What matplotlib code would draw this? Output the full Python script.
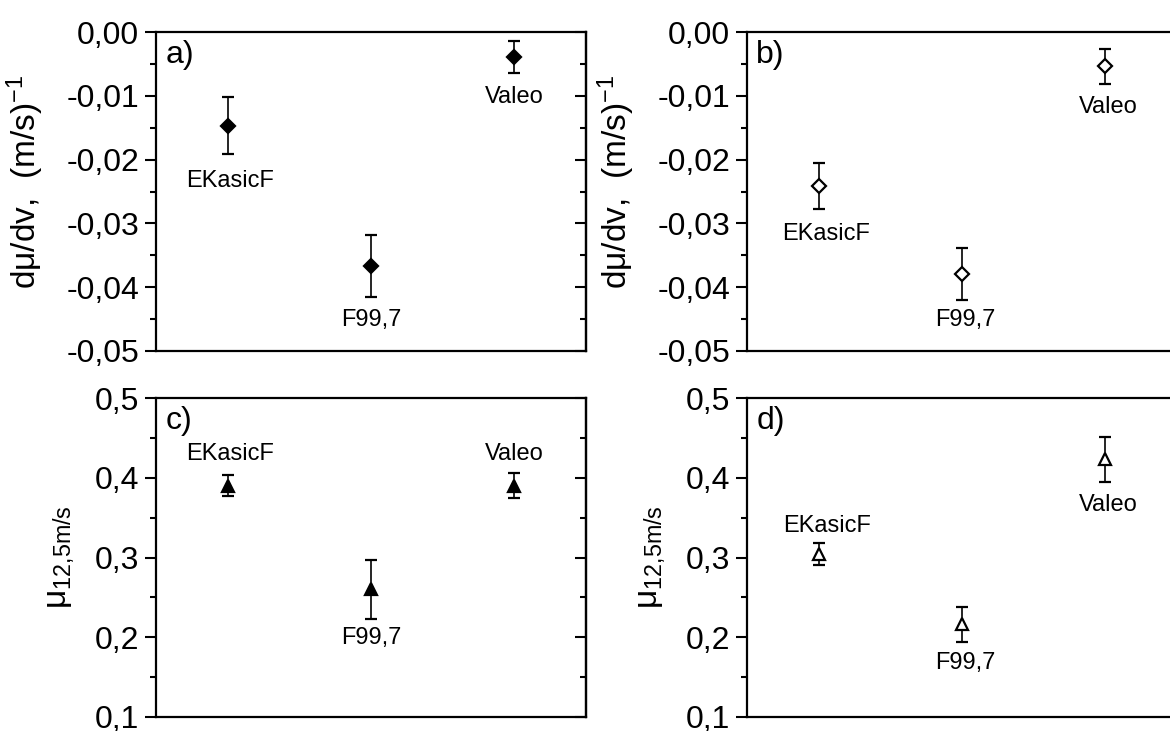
import matplotlib
matplotlib.use('Agg')
import matplotlib.pyplot as plt

plt.rcParams['font.family'] = ['Liberation Sans', 'DejaVu Sans']
plt.rcParams['mathtext.fontset'] = 'custom'
plt.rcParams['mathtext.rm'] = 'Liberation Sans'
plt.rcParams['mathtext.it'] = 'Liberation Sans'

# samples and x positions
samples = ['EKasicF', 'F99,7', 'Valeo']
x_pos = [1, 2, 3]

# a) dmu/dv, filled diamonds
slope_a = [-0.0147, -0.0367, -0.0039]
slope_a_err = [0.0045, 0.0049, 0.0025]
# b) dmu/dv, open diamonds
slope_b = [-0.0242, -0.0379, -0.0054]
slope_b_err = [0.0036, 0.0041, 0.0027]
# c) mu at 12.5 m/s, filled triangles
mu_c = [0.390, 0.260, 0.390]
mu_c_err = [0.013, 0.037, 0.016]
# d) mu at 12.5 m/s, open triangles
mu_d = [0.304, 0.216, 0.423]
mu_d_err = [0.014, 0.022, 0.028]

slope_ticks = [0.0, -0.01, -0.02, -0.03, -0.04, -0.05]
slope_ticklabels = ['0,00', '-0,01', '-0,02', '-0,03', '-0,04', '-0,05']
slope_minor = [-0.005, -0.015, -0.025, -0.035, -0.045]
mu_ticks = [0.1, 0.2, 0.3, 0.4, 0.5]
mu_ticklabels = ['0,1', '0,2', '0,3', '0,4', '0,5']
mu_minor = [0.15, 0.25, 0.35, 0.45]

# where the sample names sit in each panel (data coords)
lab_a = ([1.02, 2.0, 3.0], [-0.0234, -0.0451, -0.0102])
lab_b = ([1.05, 2.02, 3.02], [-0.0317, -0.0451, -0.0118])
lab_c = ([1.02, 2.0, 3.0], [0.430, 0.199, 0.430])
lab_d = ([1.06, 2.02, 3.02], [0.339, 0.168, 0.366])

fig = plt.figure(figsize=(11.7, 7.31), dpi=100)
W = 430 / 1170
H = 319 / 731
ax_a = fig.add_axes([156 / 1170, 1 - 351 / 731, W, H])
ax_b = fig.add_axes([747 / 1170, 1 - 351 / 731, W, H])
ax_c = fig.add_axes([156 / 1170, 1 - 717 / 731, W, H])
ax_d = fig.add_axes([747 / 1170, 1 - 717 / 731, W, H])

slope_label = 'dμ/dv,  (m/s)$^{\\mathrm{-1}}$'
mu_label = 'μ$_{\\mathrm{12{,}5m/s}}$'

panels = [
    (ax_a, slope_a, slope_a_err, 'D', 'black', 'a)', lab_a, slope_ticks, slope_ticklabels, slope_minor, (-0.05, 0.0), slope_label),
    (ax_b, slope_b, slope_b_err, 'D', 'white', 'b)', lab_b, slope_ticks, slope_ticklabels, slope_minor, (-0.05, 0.0), slope_label),
    (ax_c, mu_c, mu_c_err, '^', 'black', 'c)', lab_c, mu_ticks, mu_ticklabels, mu_minor, (0.1, 0.5), mu_label),
    (ax_d, mu_d, mu_d_err, '^', 'white', 'd)', lab_d, mu_ticks, mu_ticklabels, mu_minor, (0.1, 0.5), mu_label),
]

for ax, y, err, mk, fc, letter, lab, ticks, ticklabels, minor, ylim, ylabel in panels:
    ms = 7 if mk == 'D' else 9
    ax.errorbar(x_pos, y, yerr=err, fmt=mk, color='black', mfc=fc, mec='black',
                mew=1.6, ms=ms, ecolor='black', elinewidth=1.2, capsize=4, capthick=1.2)
    for name, tx, ty in zip(samples, lab[0], lab[1]):
        ax.text(tx, ty, name, fontsize=17, ha='center', va='center')
    ax.text(0.022, 0.975, letter, transform=ax.transAxes, fontsize=23, ha='left', va='top')
    ax.set_xlim(0.5, 3.5)
    ax.set_ylim(*ylim)
    ax.set_xticks([])
    ax.set_yticks(ticks)
    ax.set_yticklabels(ticklabels)
    ax.set_yticks(minor, minor=True)
    ax.tick_params(axis='y', which='major', direction='out', length=8, width=1.5, labelsize=23, pad=4)
    ax.tick_params(axis='y', which='minor', direction='out', length=4, width=1.5)
    ax.set_ylabel(ylabel, fontsize=24)
    for s in ax.spines.values():
        s.set_linewidth(1.6)

# mirrored ticks on the right side of the left panels, pointing in
for ax, ticks, minor in [(ax_a, slope_ticks, slope_minor), (ax_c, mu_ticks, mu_minor)]:
    sec = ax.secondary_yaxis('right')
    sec.set_yticks(ticks)
    sec.set_yticks(minor, minor=True)
    sec.tick_params(axis='y', which='major', direction='in', length=8, width=1.5, labelright=False)
    sec.tick_params(axis='y', which='minor', direction='in', length=4, width=1.5)
    sec.spines['right'].set_linewidth(1.6)

ax_a.yaxis.set_label_coords(-0.255, 0.53)
ax_b.yaxis.set_label_coords(-0.255, 0.53)
ax_c.yaxis.set_label_coords(-0.185, 0.5)
ax_d.yaxis.set_label_coords(-0.185, 0.5)

fig.savefig('out.png', dpi=100)
